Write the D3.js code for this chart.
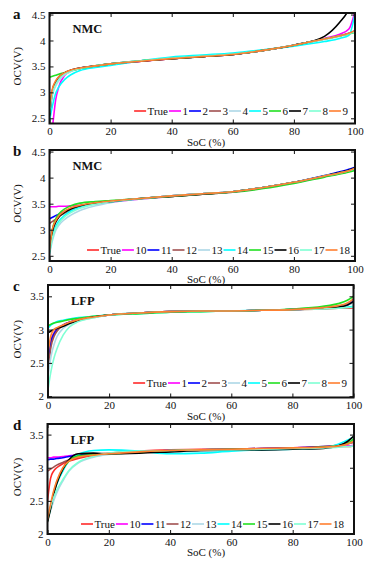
<!DOCTYPE html>
<html>
<head>
<meta charset="utf-8">
<script src="https://cdnjs.cloudflare.com/ajax/libs/d3/7.8.5/d3.min.js"></script>
<style>
  body { margin: 0; background: #fff; }
  svg text { font-family: "Liberation Serif", "DejaVu Serif", serif; fill: #111; }
</style>
</head>
<body>
<div id="chart"></div>
<script>
// SoC grid (%) shared by every curve
var soc = [0, 1, 2, 3, 5, 7, 10, 15, 20, 30, 40, 50, 60, 70, 80, 90, 95, 98, 100];

// true OCV curves
var trueNMC = [2.58, 3.00, 3.16, 3.25, 3.35, 3.41, 3.46, 3.51, 3.55, 3.60, 3.65, 3.69, 3.73, 3.81, 3.91, 4.03, 4.09, 4.13, 4.18];
var trueLFP = [2.50, 2.84, 2.95, 3.00, 3.06, 3.10, 3.14, 3.19, 3.22, 3.25, 3.27, 3.28, 3.28, 3.29, 3.30, 3.31, 3.32, 3.32, 3.33];

// NMC estimates 1-9 (panel a)
var nmcEst1 = [
  [2.00, 2.35, 2.85, 3.10, 3.33, 3.41, 3.46, 3.50, 3.54, 3.60, 3.65, 3.69, 3.73, 3.81, 3.91, 4.04, 4.12, 4.22, 4.56],
  [2.55, 3.02, 3.18, 3.27, 3.37, 3.42, 3.47, 3.51, 3.55, 3.61, 3.65, 3.69, 3.73, 3.81, 3.91, 4.03, 4.09, 4.14, 4.19],
  [2.58, 3.00, 3.16, 3.25, 3.36, 3.42, 3.46, 3.51, 3.55, 3.60, 3.65, 3.69, 3.73, 3.81, 3.91, 4.03, 4.09, 4.13, 4.18],
  [2.50, 2.95, 3.12, 3.22, 3.34, 3.40, 3.46, 3.51, 3.55, 3.61, 3.66, 3.70, 3.74, 3.82, 3.91, 4.02, 4.08, 4.12, 4.16],
  [2.45, 2.75, 2.98, 3.10, 3.25, 3.34, 3.42, 3.48, 3.52, 3.61, 3.68, 3.72, 3.76, 3.82, 3.89, 3.98, 4.04, 4.10, 4.52],
  [3.29, 3.31, 3.33, 3.35, 3.38, 3.42, 3.46, 3.51, 3.55, 3.61, 3.65, 3.69, 3.73, 3.81, 3.91, 4.03, 4.09, 4.13, 4.16],
  [2.55, 3.05, 3.20, 3.29, 3.38, 3.43, 3.47, 3.51, 3.55, 3.60, 3.65, 3.69, 3.73, 3.81, 3.91, 4.08, 4.35, 4.60, 4.90],
  [2.60, 3.00, 3.15, 3.25, 3.36, 3.41, 3.46, 3.51, 3.55, 3.61, 3.66, 3.70, 3.74, 3.81, 3.91, 4.03, 4.09, 4.13, 4.17],
  [2.72, 3.08, 3.22, 3.30, 3.38, 3.43, 3.47, 3.51, 3.55, 3.60, 3.65, 3.69, 3.73, 3.81, 3.91, 4.03, 4.09, 4.14, 4.19]
];

// NMC estimates 10-18 (panel b)
var nmcEst2 = [
  [3.44, 3.44, 3.44, 3.45, 3.45, 3.46, 3.47, 3.50, 3.53, 3.59, 3.64, 3.68, 3.72, 3.80, 3.90, 4.02, 4.08, 4.12, 4.16],
  [3.21, 3.24, 3.27, 3.30, 3.35, 3.40, 3.45, 3.50, 3.54, 3.60, 3.65, 3.69, 3.73, 3.81, 3.91, 4.04, 4.11, 4.16, 4.20],
  [3.12, 3.16, 3.20, 3.25, 3.32, 3.38, 3.44, 3.50, 3.54, 3.60, 3.64, 3.68, 3.73, 3.81, 3.91, 4.03, 4.09, 4.13, 4.17],
  [2.52, 2.80, 2.98, 3.08, 3.20, 3.28, 3.37, 3.46, 3.52, 3.59, 3.64, 3.69, 3.73, 3.81, 3.91, 4.03, 4.09, 4.13, 4.17],
  [2.55, 2.90, 3.06, 3.16, 3.28, 3.36, 3.43, 3.50, 3.54, 3.60, 3.65, 3.69, 3.73, 3.81, 3.90, 4.02, 4.08, 4.12, 4.16],
  [2.60, 3.02, 3.20, 3.30, 3.40, 3.46, 3.51, 3.54, 3.56, 3.60, 3.64, 3.68, 3.72, 3.79, 3.89, 4.01, 4.07, 4.11, 4.14],
  [2.58, 2.98, 3.14, 3.24, 3.34, 3.40, 3.46, 3.51, 3.54, 3.60, 3.64, 3.68, 3.73, 3.81, 3.91, 4.03, 4.10, 4.14, 4.19],
  [2.55, 2.85, 3.02, 3.12, 3.25, 3.33, 3.41, 3.49, 3.54, 3.60, 3.65, 3.69, 3.73, 3.81, 3.91, 4.03, 4.09, 4.13, 4.17],
  [2.62, 3.02, 3.17, 3.26, 3.36, 3.42, 3.47, 3.52, 3.55, 3.60, 3.65, 3.69, 3.73, 3.81, 3.91, 4.03, 4.09, 4.13, 4.18]
];

// LFP estimates 1-9 (panel c)
var lfpEst1 = [
  [2.45, 2.80, 2.93, 3.00, 3.07, 3.11, 3.15, 3.19, 3.22, 3.25, 3.27, 3.28, 3.28, 3.29, 3.30, 3.32, 3.34, 3.37, 3.42],
  [2.50, 2.82, 2.94, 3.00, 3.07, 3.11, 3.15, 3.19, 3.22, 3.25, 3.27, 3.28, 3.28, 3.29, 3.30, 3.33, 3.35, 3.38, 3.43],
  [2.40, 2.75, 2.90, 2.98, 3.06, 3.10, 3.15, 3.19, 3.22, 3.25, 3.27, 3.28, 3.28, 3.29, 3.30, 3.32, 3.34, 3.37, 3.41],
  [2.30, 2.60, 2.78, 2.90, 3.02, 3.08, 3.13, 3.18, 3.22, 3.25, 3.27, 3.28, 3.28, 3.29, 3.30, 3.32, 3.34, 3.37, 3.40],
  [3.02, 3.07, 3.10, 3.12, 3.14, 3.16, 3.18, 3.20, 3.22, 3.24, 3.26, 3.27, 3.28, 3.29, 3.30, 3.32, 3.33, 3.34, 3.35],
  [3.06, 3.08, 3.10, 3.11, 3.13, 3.15, 3.17, 3.20, 3.22, 3.24, 3.26, 3.27, 3.28, 3.29, 3.31, 3.35, 3.39, 3.44, 3.50],
  [2.95, 2.98, 3.00, 3.02, 3.05, 3.09, 3.14, 3.19, 3.22, 3.25, 3.27, 3.28, 3.28, 3.29, 3.30, 3.32, 3.34, 3.37, 3.42],
  [2.10, 2.38, 2.58, 2.72, 2.92, 3.04, 3.12, 3.18, 3.22, 3.25, 3.27, 3.28, 3.28, 3.29, 3.30, 3.31, 3.32, 3.33, 3.34],
  [2.65, 2.92, 3.00, 3.03, 3.07, 3.11, 3.15, 3.19, 3.22, 3.25, 3.27, 3.28, 3.28, 3.29, 3.30, 3.33, 3.36, 3.40, 3.46]
];

// LFP estimates 10-18 (panel d)
var lfpEst2 = [
  [3.15, 3.15, 3.16, 3.16, 3.17, 3.18, 3.19, 3.20, 3.21, 3.24, 3.26, 3.27, 3.28, 3.29, 3.30, 3.31, 3.32, 3.33, 3.34],
  [3.12, 3.13, 3.13, 3.14, 3.15, 3.17, 3.19, 3.20, 3.21, 3.24, 3.26, 3.27, 3.28, 3.29, 3.30, 3.32, 3.34, 3.37, 3.40],
  [2.95, 2.98, 3.01, 3.04, 3.08, 3.12, 3.16, 3.19, 3.21, 3.24, 3.26, 3.27, 3.28, 3.29, 3.30, 3.32, 3.34, 3.36, 3.38],
  [2.20, 2.35, 2.50, 2.62, 2.80, 2.95, 3.07, 3.16, 3.20, 3.23, 3.24, 3.25, 3.26, 3.27, 3.28, 3.30, 3.32, 3.36, 3.42],
  [2.20, 2.40, 2.60, 2.75, 2.95, 3.10, 3.20, 3.26, 3.27, 3.25, 3.21, 3.22, 3.25, 3.27, 3.28, 3.30, 3.36, 3.42, 3.47],
  [2.20, 2.40, 2.62, 2.78, 2.98, 3.10, 3.18, 3.20, 3.21, 3.23, 3.26, 3.27, 3.28, 3.28, 3.29, 3.31, 3.33, 3.37, 3.44],
  [2.18, 2.38, 2.60, 2.76, 2.98, 3.12, 3.21, 3.22, 3.21, 3.22, 3.24, 3.26, 3.27, 3.27, 3.28, 3.29, 3.33, 3.40, 3.48],
  [2.25, 2.42, 2.55, 2.66, 2.82, 2.96, 3.08, 3.17, 3.22, 3.25, 3.26, 3.27, 3.27, 3.28, 3.29, 3.30, 3.31, 3.32, 3.33],
  [2.22, 2.45, 2.65, 2.80, 3.00, 3.10, 3.16, 3.19, 3.21, 3.24, 3.26, 3.27, 3.28, 3.29, 3.30, 3.31, 3.33, 3.36, 3.40]
];

var names1 = ["True", "1", "2", "3", "4", "5", "6", "7", "8", "9"];
var names2 = ["True", "10", "11", "12", "13", "14", "15", "16", "17", "18"];
var lineColors = ["#ff2a2a", "#ff00ff", "#0000ff", "#a05050", "#add8e6", "#00ffff", "#22e022", "#000000", "#7fffd4", "#ff7f30"];

var xTicks = [0, 20, 40, 60, 80, 100];
var yTicksNMC = [2.5, 3, 3.5, 4, 4.5];
var yTicksLFP = [2, 2.5, 3, 3.5];

var serif = "'Liberation Serif', 'DejaVu Serif', serif";

var svg = d3.select("#chart").append("svg")
    .attr("width", 373)
    .attr("height", 561)
    .attr("font-family", serif);

/*
 * OcvPanel - one framed OCV vs SoC plot
 */
OcvPanel = function(_svg, _opts) {
  this.svg = _svg;
  this.opts = _opts;
  this.initVis();
}

OcvPanel.prototype.initVis = function() {
  var vis = this, o = vis.opts;

  vis.g = vis.svg.append("g");

  vis.x = d3.scaleLinear().domain([0, 100]).range([o.left, o.right]);
  vis.y = d3.scaleLinear().domain(o.yDomain).range([o.bottom, o.top]);

  vis.clipId = "clip-" + o.letter;
  vis.g.append("clipPath").attr("id", vis.clipId)
    .append("rect")
    .attr("x", o.left).attr("y", o.top)
    .attr("width", o.right - o.left).attr("height", o.bottom - o.top);

  // curves, true first so the estimates sit on top
  vis.series = [o.truth].concat(o.estimates).map(function(vals, i) {
    return { name: o.names[i], color: lineColors[i],
             pts: soc.map(function(s, j) { return [s, vals[j]]; }) };
  });

  var line = d3.line()
    .x(function(d) { return vis.x(d[0]); })
    .y(function(d) { return vis.y(d[1]); })
    .curve(d3.curveMonotoneX);

  vis.g.append("g").attr("clip-path", "url(#" + vis.clipId + ")")
    .selectAll("path").data(vis.series).enter().append("path")
    .attr("d", function(d) { return line(d.pts); })
    .attr("fill", "none")
    .attr("stroke", function(d) { return d.color; })
    .attr("stroke-width", 1.6);

  // axes with inward ticks on all four sides
  var fmt = function(d) { return String(d); };
  var xb = d3.axisBottom(vis.x).tickValues(xTicks).tickSize(-4).tickSizeOuter(0).tickPadding(4).tickFormat(fmt);
  var xt = d3.axisTop(vis.x).tickValues(xTicks).tickSize(-4).tickSizeOuter(0).tickFormat("");
  var yl = d3.axisLeft(vis.y).tickValues(o.yTicks).tickSize(-4).tickSizeOuter(0).tickPadding(4).tickFormat(fmt);
  var yr = d3.axisRight(vis.y).tickValues(o.yTicks).tickSize(-4).tickSizeOuter(0).tickFormat("");

  vis.g.append("g").attr("transform", "translate(0," + o.bottom + ")").call(xb);
  vis.g.append("g").attr("transform", "translate(0," + o.top + ")").call(xt);
  vis.g.append("g").attr("transform", "translate(" + o.left + ",0)").call(yl);
  vis.g.append("g").attr("transform", "translate(" + o.right + ",0)").call(yr);

  vis.g.selectAll(".domain").remove();
  vis.g.selectAll(".tick").attr("font-family", serif);
  vis.g.selectAll(".tick line").attr("stroke", "#111").attr("stroke-width", 1);
  vis.g.selectAll(".tick text").attr("font-size", "11px").attr("fill", "#111")
    .attr("font-family", serif);

  vis.g.append("rect")
    .attr("x", o.left).attr("y", o.top)
    .attr("width", o.right - o.left).attr("height", o.bottom - o.top)
    .attr("fill", "none").attr("stroke", "#111").attr("stroke-width", 2);

  // texts
  vis.g.append("text").attr("x", 13).attr("y", o.top + 6)
    .attr("font-size", "15px").attr("font-weight", "bold").text(o.letter);
  vis.g.append("text").attr("x", o.left + 23).attr("y", o.top + 20)
    .attr("font-size", "12.5px").attr("font-weight", "bold").text(o.chem);
  vis.g.append("text").attr("x", 206).attr("y", o.bottom + 22)
    .attr("text-anchor", "middle").attr("font-size", "11px").text("SoC (%)");
  vis.g.append("text")
    .attr("transform", "translate(21," + ((o.top + o.bottom) / 2 - 2) + ") rotate(-90)")
    .attr("text-anchor", "middle").attr("font-size", "11px").text("OCV(V)");

  vis.drawLegend();
}

OcvPanel.prototype.drawLegend = function() {
  var vis = this, o = vis.opts;
  var lineLen = 12, gapIn = 1.5, gapOut = 1;

  var items = vis.g.append("g").selectAll("g").data(vis.series).enter().append("g");
  items.append("line")
    .attr("x1", 0).attr("x2", lineLen).attr("y1", 0).attr("y2", 0)
    .attr("stroke", function(d) { return d.color; }).attr("stroke-width", 1.6);
  items.append("text")
    .attr("x", lineLen + gapIn).attr("y", 4)
    .attr("font-size", "11px").text(function(d) { return d.name; });

  var widths = [];
  items.select("text").each(function() { widths.push(this.getComputedTextLength()); });
  var total = d3.sum(widths) + widths.length * (lineLen + gapIn) + (widths.length - 1) * gapOut;
  var xPos = o.legendRight - total;
  items.attr("transform", function(d, i) {
    var t = "translate(" + xPos + "," + o.legendY + ")";
    xPos += lineLen + gapIn + widths[i] + gapOut;
    return t;
  });
}

new OcvPanel(svg, { letter: "a", chem: "NMC", truth: trueNMC, estimates: nmcEst1, names: names1,
  yDomain: [2.4, 4.53], yTicks: yTicksNMC, left: 49.5, right: 355, top: 13, bottom: 123.5,
  legendY: 111, legendRight: 348 });
new OcvPanel(svg, { letter: "b", chem: "NMC", truth: trueNMC, estimates: nmcEst2, names: names2,
  yDomain: [2.4, 4.53], yTicks: yTicksNMC, left: 49.5, right: 355, top: 150, bottom: 261,
  legendY: 250, legendRight: 350 });
new OcvPanel(svg, { letter: "c", chem: "LFP", truth: trueLFP, estimates: lfpEst1, names: names1,
  yDomain: [1.98, 3.67], yTicks: yTicksLFP, left: 48, right: 353.5, top: 285, bottom: 397.5,
  legendY: 383, legendRight: 347 });
new OcvPanel(svg, { letter: "d", chem: "LFP", truth: trueLFP, estimates: lfpEst2, names: names2,
  yDomain: [2.0, 3.66], yTicks: yTicksLFP, left: 47.5, right: 354, top: 424, bottom: 534,
  legendY: 524, legendRight: 344 });
</script>
</body>
</html>
